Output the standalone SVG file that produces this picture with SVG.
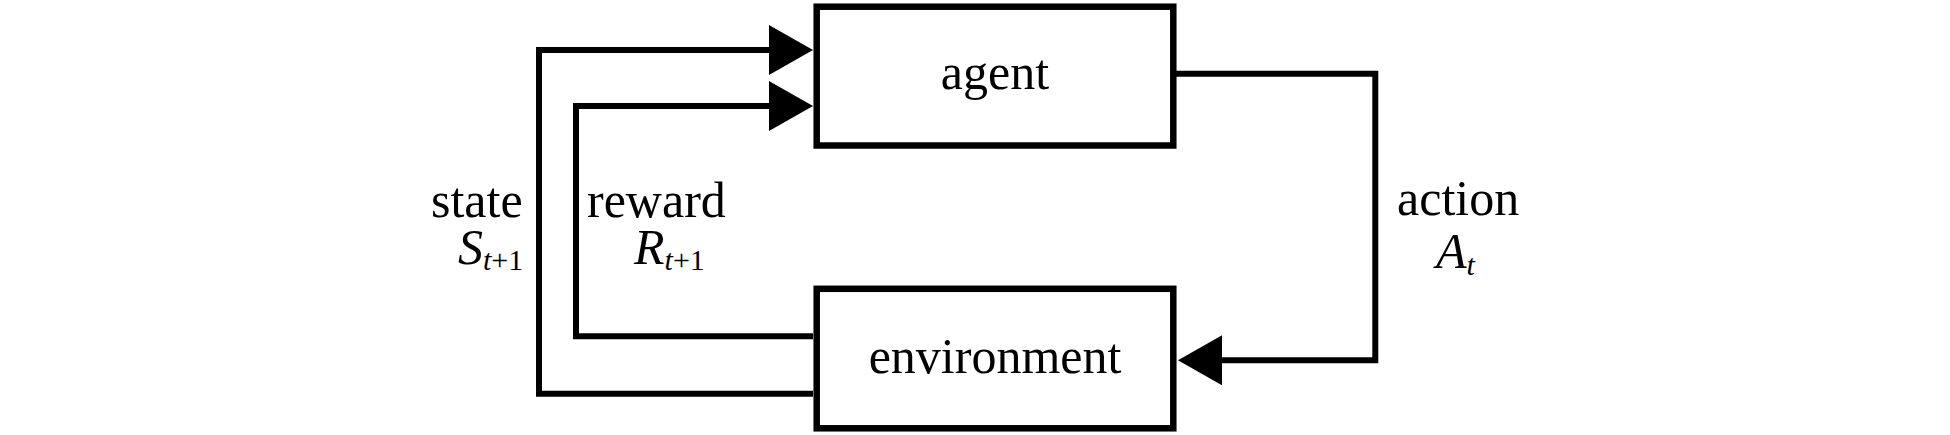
<svg xmlns="http://www.w3.org/2000/svg" width="1950" height="435" viewBox="0 0 1950 435">
  <style>
    .box { fill: #ffffff; stroke: #000000; stroke-width: 6.5; }
    .conn { fill: none; stroke: #000000; stroke-width: 6; stroke-linejoin: miter; }
    .lbl { font-family: "Liberation Serif", "Times New Roman", serif; font-size: 50px; fill: #000000; }
    .it { font-style: italic; }
    .sub { font-size: 30px; }
  </style>
  <defs>
    <marker id="arrow" viewBox="0 0 44 50" refX="1" refY="25" markerWidth="44" markerHeight="50" markerUnits="userSpaceOnUse" orient="auto">
      <path d="M0,0 L44,25 L0,50 Z" fill="#000000"/>
    </marker>
  </defs>
  <rect width="1950" height="435" fill="#ffffff"/>

  <g id="connectors">
    <path class="conn" d="M 813 393.7 H 539 V 50 H 770" marker-end="url(#arrow)"/>
    <path class="conn" d="M 813 336.3 H 576 V 106 H 770" marker-end="url(#arrow)"/>
    <path class="conn" d="M 1176 73.7 H 1375.3 V 360.3 H 1221" marker-end="url(#arrow)"/>
  </g>

  <g id="agent">
    <rect class="box" x="816.7" y="6.7" width="356.6" height="138.8"/>
    <text class="lbl" x="995" y="89" text-anchor="middle">agent</text>
  </g>

  <g id="environment">
    <rect class="box" x="816.7" y="288.8" width="356.6" height="139.5"/>
    <text class="lbl" x="995" y="373" text-anchor="middle">environment</text>
  </g>

  <g id="labels">
    <text class="lbl" x="431" y="216.7">state</text>
    <text class="lbl" x="458" y="264"><tspan class="it">S</tspan><tspan class="it sub" dy="6">t</tspan><tspan class="sub">+1</tspan></text>
    <text class="lbl" x="587" y="216.7">reward</text>
    <text class="lbl" x="634" y="264"><tspan class="it">R</tspan><tspan class="it sub" dy="6">t</tspan><tspan class="sub">+1</tspan></text>
    <text class="lbl" x="1397" y="215">action</text>
    <text class="lbl" x="1436" y="268"><tspan class="it">A</tspan><tspan class="it sub" dy="7">t</tspan></text>
  </g>
</svg>
